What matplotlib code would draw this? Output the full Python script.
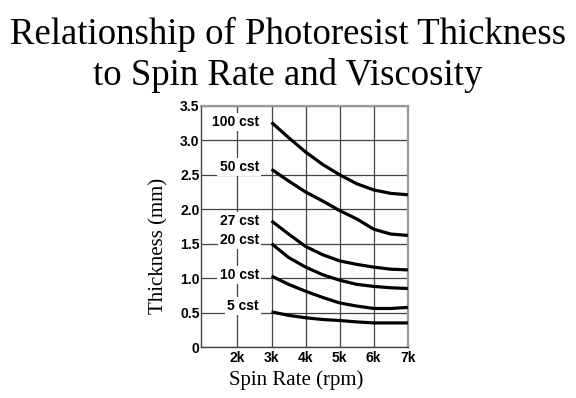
import numpy as np
import matplotlib
matplotlib.use('Agg')
import matplotlib.pyplot as plt

# spin rate (rpm) and photoresist thickness for each viscosity
spin_rpm = [3000, 3500, 4000, 4500, 5000, 5500, 6000, 6500, 7000]
visc_labels = ['100 cst', '50 cst', '27 cst', '20 cst', '10 cst', '5 cst']
t_100 = [3.26, 3.04, 2.83, 2.65, 2.50, 2.37, 2.28, 2.23, 2.21]
t_50 = [2.58, 2.41, 2.25, 2.12, 1.98, 1.86, 1.71, 1.64, 1.62]
t_27 = [1.83, 1.64, 1.46, 1.34, 1.25, 1.20, 1.16, 1.13, 1.12]
t_20 = [1.50, 1.30, 1.16, 1.05, 0.97, 0.91, 0.88, 0.86, 0.85]
t_10 = [1.03, 0.91, 0.81, 0.72, 0.64, 0.595, 0.56, 0.56, 0.575]
t_5 = [0.51, 0.46, 0.425, 0.40, 0.385, 0.365, 0.35, 0.35, 0.35]
x_ticks = [2000, 3000, 4000, 5000, 6000, 7000]
x_ticklabels = ['2k', '3k', '4k', '5k', '6k', '7k']
y_ticks = [0, 0.5, 1.0, 1.5, 2.0, 2.5, 3.0, 3.5]
y_ticklabels = ['0', '0.5', '1.0', '1.5', '2.0', '2.5', '3.0', '3.5']

series = [t_100, t_50, t_27, t_20, t_10, t_5]
label_dy = [0.01, 0.03, 0.0, 0.06, 0.015, 0.085]

fig = plt.figure(figsize=(5.76, 3.98), dpi=100)
ax = fig.add_axes([0.349, 0.128, 0.359, 0.606])

ax.set_xlim(930, 7000)
ax.set_ylim(0, 3.5)
ax.set_xticks(x_ticks)
ax.set_xticklabels(x_ticklabels)
ax.set_yticks(y_ticks)
ax.set_yticklabels(y_ticklabels)
ax.tick_params(length=0, labelsize=10, pad=1)
for lab in ax.get_xticklabels() + ax.get_yticklabels():
    lab.set_fontweight('bold')
    lab.set_family('Liberation Sans')
ax.tick_params(axis='x', pad=3)

ax.grid(True, color='#444444', linewidth=0.9)
ax.set_axisbelow(True)
for side in ['left', 'bottom']:
    ax.spines[side].set_color('#444444')
    ax.spines[side].set_linewidth(1.0)
for side in ['right', 'top']:
    ax.spines[side].set_color('#999999')
    ax.spines[side].set_linewidth(1.6)

for vals, name, dy in zip(series, visc_labels, label_dy):
    ax.plot(spin_rpm, vals, color='black', linewidth=2.3, solid_capstyle='butt', zorder=3)
    ax.text(2630, vals[0] + dy, name, ha='right', va='center', fontsize=10,
            fontweight='bold', family='Liberation Sans', zorder=4,
            bbox=dict(facecolor='white', edgecolor='none', pad=1.5))

ax.set_xlabel('Spin Rate (rpm)', family='Liberation Serif', fontsize=15)
ax.set_ylabel('Thickness (mm)', family='Liberation Serif', fontsize=15)
ax.xaxis.set_label_coords(0.46, -0.095)
ax.yaxis.set_label_coords(-0.155, 0.42)

fig.text(0.5, 1 - 44 / 398, 'Relationship of Photoresist Thickness',
         ha='center', va='baseline', family='Liberation Serif', fontsize=26.5)
fig.text(0.5, 1 - 85 / 398, 'to Spin Rate and Viscosity',
         ha='center', va='baseline', family='Liberation Serif', fontsize=26.5)

fig.savefig('out.png', dpi=100)
